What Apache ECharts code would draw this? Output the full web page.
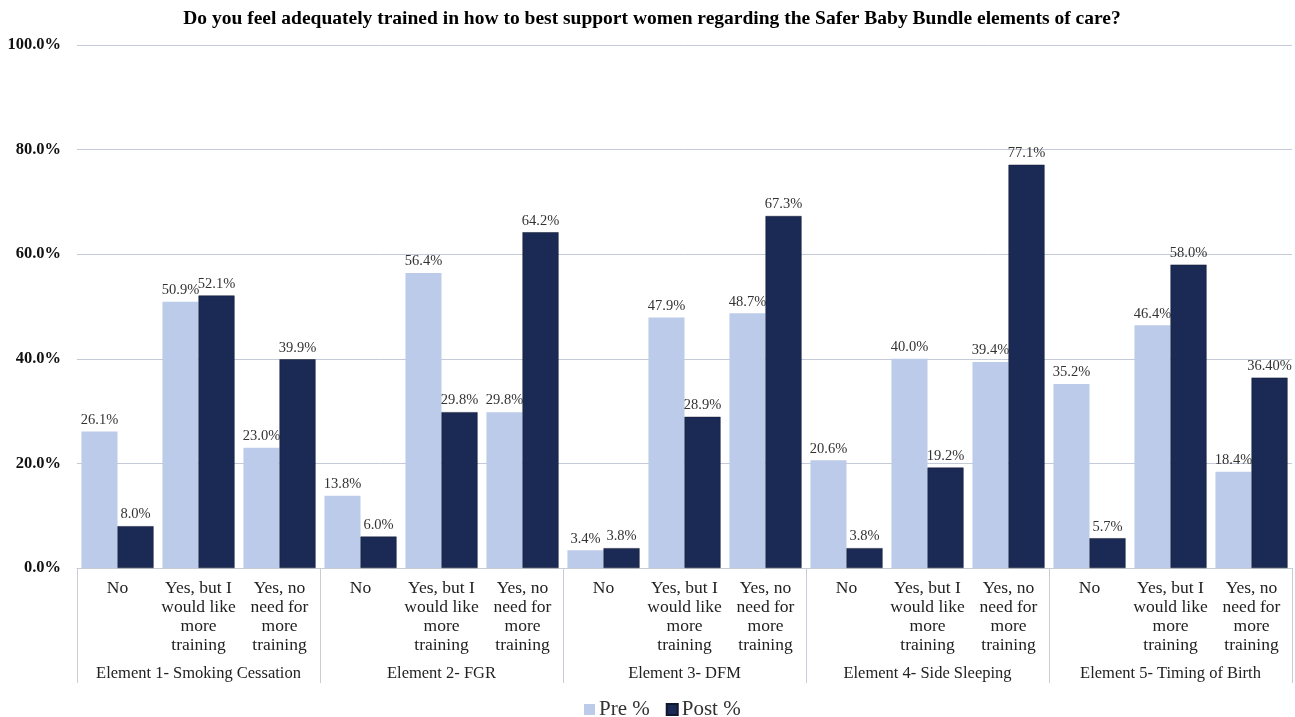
<!DOCTYPE html>
<html><head><meta charset="utf-8">
<script src="https://cdn.jsdelivr.net/npm/echarts@6/dist/echarts.min.js"></script>
<style>html,body{margin:0;padding:0;background:#fff}#c{width:1295px;height:717px}</style>
</head><body><div id="c"></div>
<script>
const title = 'Do you feel adequately trained in how to best support women regarding the Safer Baby Bundle elements of care?';
const groups = ['Element 1- Smoking Cessation','Element 2- FGR','Element 3- DFM','Element 4- Side Sleeping','Element 5- Timing of Birth'];
const answers = ['No','Yes, but I\nwould like\nmore\ntraining','Yes, no\nneed for\nmore\ntraining'];
const preValues  = [26.1,50.9,23.0, 13.8,56.4,29.8, 3.4,47.9,48.7, 20.6,40.0,39.4, 35.2,46.4,18.4];
const postValues = [8.0,52.1,39.9, 6.0,29.8,64.2, 3.8,28.9,67.3, 3.8,19.2,77.1, 5.7,58.0,36.4];
const postLabels = ['8.0%','52.1%','39.9%','6.0%','29.8%','64.2%','3.8%','28.9%','67.3%','3.8%','19.2%','77.1%','5.7%','58.0%','36.40%'];
const yTicks = [0,20,40,60,80,100];

const cats = [];
groups.forEach(()=>answers.forEach(a=>cats.push(a)));
const font = "'Liberation Serif','Times New Roman',serif";
const chart = echarts.init(document.getElementById('c'));
chart.setOption({
  animation:false,
  textStyle:{fontFamily:font},
  title:{text:title,left:647,textAlign:'center',top:4,textStyle:{fontFamily:font,fontWeight:'bold',fontSize:19.5,color:'#000'}},
  grid:{left:77,right:3,top:45,bottom:149},
  legend:{top:694,left:579,itemWidth:11,itemHeight:11,itemGap:16,icon:'rect',
    textStyle:{fontFamily:font,fontSize:21,color:'#333',padding:[0,0,0,-1]},data:['Pre %','Post %']},
  xAxis:[
    {type:'category',data:cats,position:'bottom',
     axisLine:{lineStyle:{color:'#c8ccd4',width:1}},axisTick:{show:false},
     axisLabel:{interval:0,fontFamily:font,fontSize:17.5,color:'#222',lineHeight:19,margin:11}},
    {type:'category',data:groups,position:'bottom',
     axisLine:{show:false},
     axisTick:{show:true,length:115,lineStyle:{color:'#c8ccd4'}},
     axisLabel:{interval:0,fontFamily:font,fontSize:16.5,color:'#222',margin:97}}
  ],
  yAxis:{type:'value',min:yTicks[0],max:yTicks[yTicks.length-1],interval:20,
    axisLabel:{formatter:v=>v.toFixed(1)+'%',fontFamily:font,fontWeight:'bold',fontSize:16.5,color:'#111',margin:16},
    splitLine:{lineStyle:{color:'#c5cad8'}},axisLine:{show:false},axisTick:{show:false}},
  series:[
    {name:'Pre %',type:'bar',data:preValues,barGap:'0%',barCategoryGap:'11%',
     itemStyle:{color:'#bccbea'},
     label:{show:true,position:'top',distance:4,formatter:p=>p.value.toFixed(1)+'%',fontFamily:font,fontSize:14.5,color:'#333'}},
    {name:'Post %',type:'bar',data:postValues,
     itemStyle:{color:'#1b2a55',borderColor:'#101830',borderWidth:0.5},
     label:{show:true,position:'top',distance:4,formatter:p=>postLabels[p.dataIndex],fontFamily:font,fontSize:14.5,color:'#333'}}
  ]
});
</script></body></html>
